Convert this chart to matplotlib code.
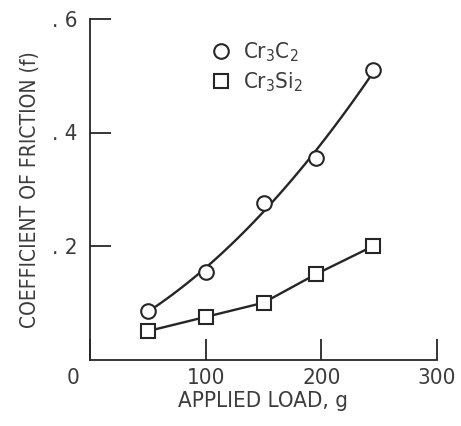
import numpy as np
import matplotlib
matplotlib.use("Agg")
import matplotlib.pyplot as plt
import matplotlib.transforms as mtransforms

plt.rcParams['font.family'] = ['DejaVu Sans']
plt.rcParams['font.stretch'] = 'condensed'
plt.rcParams['mathtext.fontset'] = 'custom'
plt.rcParams['mathtext.rm'] = 'DejaVu Sans:stretch=condensed'

# data
load = [50, 100, 150, 195, 245]
f_carbide = [0.085, 0.155, 0.275, 0.355, 0.51]    # Cr3C2
f_silicide = [0.05, 0.075, 0.10, 0.15, 0.20]      # Cr3Si2
xticks = [0, 100, 200, 300]
yticks = [0.2, 0.4, 0.6]
ylabels = ['. 2', '. 4', '. 6']

ink = '#262626'
txt = '#3c3c3c'

fig = plt.figure(figsize=(4.61, 4.26), dpi=100)
ax = fig.add_axes([90/461, 66.5/426, 347/461, 340.5/426])

# faired curve through carbide points, straight segments for silicide
c = np.polyfit(load, f_carbide, 2)
xs = np.linspace(load[0], load[-1], 100)
ax.plot(xs, np.polyval(c, xs), color=ink, lw=1.7, zorder=2)
ax.plot(load, f_silicide, color=ink, lw=1.7, zorder=2)

ax.plot(load, f_carbide, 'o', ms=10.5, mfc='white', mec=ink, mew=1.5,
        ls='none', label='Cr$_3$C$_2$', zorder=3)
ax.plot(load, f_silicide, 's', ms=10, mfc='white', mec=ink, mew=1.5,
        ls='none', label='Cr$_3$Si$_2$', zorder=3)

ax.set_xlim(0, 300)
ax.set_ylim(0, 0.6)
ax.spines['top'].set_visible(False)
ax.spines['right'].set_visible(False)
for s in ['left', 'bottom']:
    ax.spines[s].set_color(ink)
    ax.spines[s].set_linewidth(1.3)

ax.set_xticks(xticks)
ax.set_xticklabels([str(v) for v in xticks])
ax.set_yticks(yticks)
ax.set_yticklabels(ylabels)
ax.tick_params(axis='both', direction='in', length=15, width=1.3, color=ink,
               labelsize=16, labelcolor=txt)
ax.tick_params(axis='x', pad=6)
ax.tick_params(axis='y', pad=9)

# the "0" sits a little left of the corner
lab0 = ax.get_xticklabels()[0]
lab0.set_transform(lab0.get_transform() +
                   mtransforms.ScaledTranslation(-12/72, 0, fig.dpi_scale_trans))

ax.set_xlabel('APPLIED LOAD, g', fontsize=16, color=txt, labelpad=2)
ax.set_ylabel('COEFFICIENT OF FRICTION (f)', fontsize=15, color=txt, labelpad=9)

ax.legend(loc='upper left', bbox_to_anchor=(0.32, 0.97), frameon=False,
          fontsize=16, labelcolor=txt, handlelength=0.8, handletextpad=0.6,
          labelspacing=0.3, borderpad=0)

fig.savefig('out.png', dpi=100)
